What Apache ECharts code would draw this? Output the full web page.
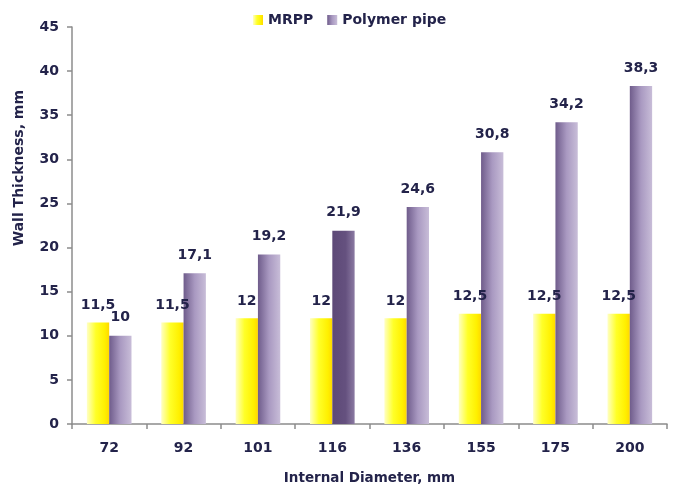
<!DOCTYPE html>
<html>
<head>
<meta charset="utf-8">
<script src="https://cdn.jsdelivr.net/npm/echarts@6/dist/echarts.min.js"></script>
<style>
  html, body { margin: 0; padding: 0; background: #fff; }
  #chart { width: 680px; height: 491px; }
</style>
</head>
<body>
<div id="chart"></div>
<script>
// Internal diameters (mm) on the category axis
const diameters = ['72', '92', '101', '116', '136', '155', '175', '200'];
// Wall thickness (mm) for each pipe type
const mrpp = [11.5, 11.5, 12, 12, 12, 12.5, 12.5, 12.5];
const polymer = [10, 17.1, 19.2, 21.9, 24.6, 30.8, 34.2, 38.3];
// Value axis ticks
const yMin = 0, yMax = 45, yStep = 5;

const textColor = '#23234a';
const fontFamily = 'DejaVu Sans, Verdana, sans-serif';

// Horizontal shading across each bar
const yellowFill = new echarts.graphic.LinearGradient(0, 0, 1, 0, [
  { offset: 0, color: '#ffffc4' },
  { offset: 0.4, color: '#ffff28' },
  { offset: 0.8, color: '#fff000' },
  { offset: 1, color: '#ffd800' }
]);
const purpleFill = new echarts.graphic.LinearGradient(0, 0, 1, 0, [
  { offset: 0, color: '#6f5c8b' },
  { offset: 0.5, color: '#a999c1' },
  { offset: 1, color: '#c8bdd8' }
]);
const darkPurpleFill = new echarts.graphic.LinearGradient(0, 0, 1, 0, [
  { offset: 0, color: '#5d4977' },
  { offset: 0.6, color: '#65517f' },
  { offset: 1, color: '#8b7aa2' }
]);

const commaLabel = p => String(p.value).replace('.', ',');

const chart = echarts.init(document.getElementById('chart'));
chart.setOption({
  animation: false,
  textStyle: { fontFamily },
  legend: {
    top: 8,
    left: 248,
    itemWidth: 10,
    itemHeight: 10,
    itemGap: 14,
    icon: 'rect',
    textStyle: { color: textColor, fontSize: 14, fontWeight: 'bold', fontFamily },
    data: ['MRPP', 'Polymer pipe']
  },
  grid: { left: 72, right: 13, top: 27, bottom: 67 },
  graphic: [{
    type: 'text',
    left: 12,
    top: 90,
    rotation: Math.PI / 2,
    style: {
      text: 'Wall Thickness, mm',
      fill: textColor,
      font: 'bold 14px ' + fontFamily
    }
  }],
  xAxis: {
    type: 'category',
    data: diameters,
    name: 'Internal Diameter, mm',
    nameLocation: 'middle',
    nameGap: 47,
    nameTextStyle: { color: textColor, fontSize: 13.5, fontWeight: 'bold' },
    axisLine: { lineStyle: { color: '#8c8c8c', width: 1.5 } },
    axisTick: { show: true, length: 5, lineStyle: { color: '#8c8c8c', width: 1.5 } },
    axisLabel: { color: textColor, fontSize: 14, fontWeight: 'bold', margin: 17 }
  },
  yAxis: {
    type: 'value',
    min: yMin,
    max: yMax,
    interval: yStep,
    axisLine: { show: true, lineStyle: { color: '#8c8c8c', width: 1.5 } },
    axisTick: { show: true, length: 5, lineStyle: { color: '#8c8c8c', width: 1.5 } },
    splitLine: { show: false },
    axisLabel: { color: textColor, fontSize: 14, fontWeight: 'bold', margin: 13 }
  },
  series: [
    {
      name: 'MRPP',
      type: 'bar',
      data: mrpp,
      barGap: '0%',
      barCategoryGap: '40%',
      itemStyle: { color: yellowFill },
      label: {
        show: true,
        position: 'top',
        distance: 10,
        formatter: commaLabel,
        color: textColor,
        fontSize: 14,
        fontWeight: 'bold'
      }
    },
    {
      name: 'Polymer pipe',
      type: 'bar',
      data: polymer.map((v, i) => i === 3
        ? { value: v, itemStyle: { color: darkPurpleFill } }
        : v),
      itemStyle: { color: purpleFill },
      label: {
        show: true,
        position: 'top',
        distance: 11,
        formatter: commaLabel,
        color: textColor,
        fontSize: 14,
        fontWeight: 'bold'
      }
    }
  ]
});
</script>
</body>
</html>
